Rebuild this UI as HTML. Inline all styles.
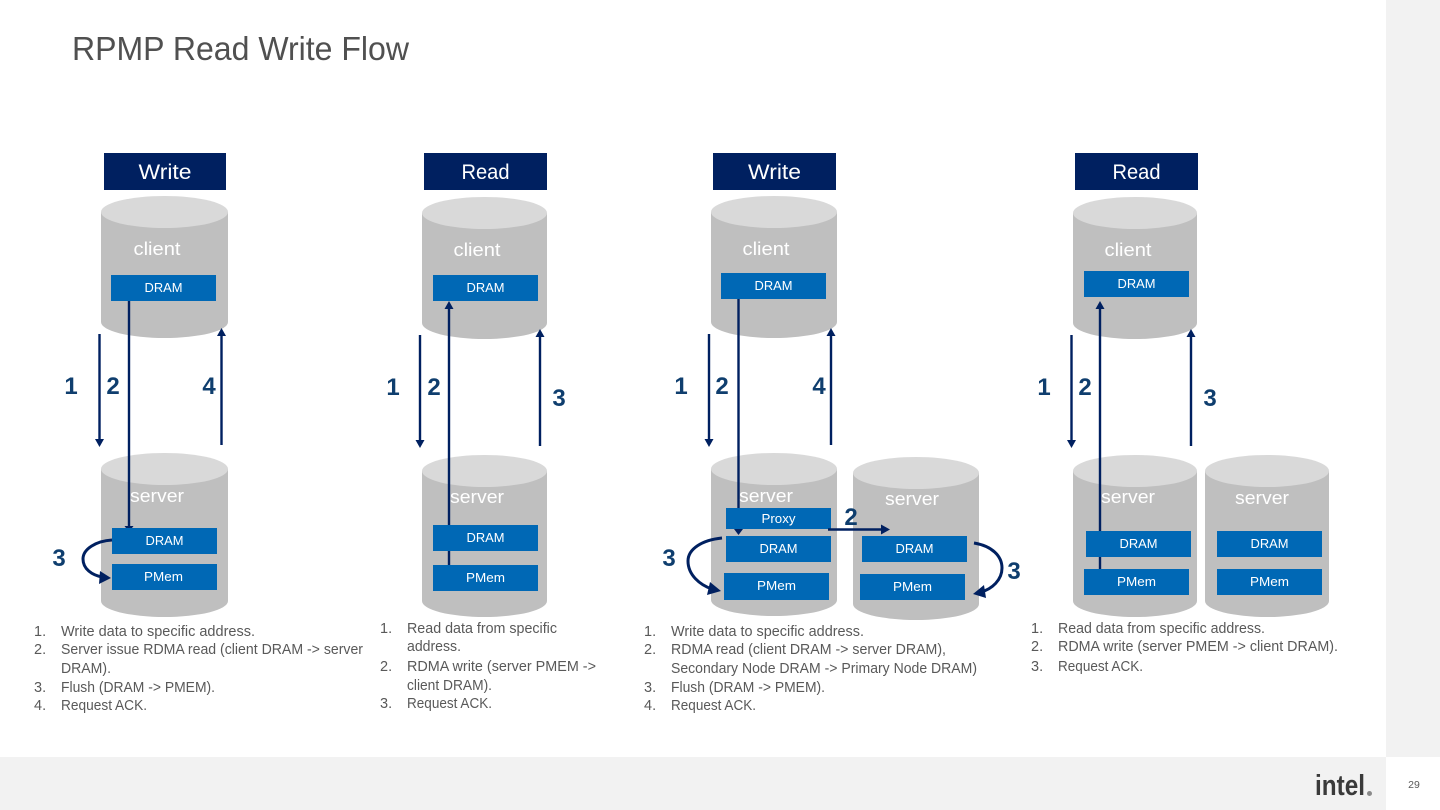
<!DOCTYPE html>
<html><head><meta charset="utf-8"><style>
html,body{margin:0;padding:0;background:#fff;width:1440px;height:810px;overflow:hidden}
svg{display:block}
text{font-family:"Liberation Sans",sans-serif}
.b{fill:#bfbfbf}.t{fill:#d9d9d9}.box{fill:#0068b5}
.bl{fill:#fff;font-size:13px;text-anchor:middle}
.cy{fill:#fff;font-size:18px;text-anchor:middle}
.hd{fill:#fff;font-size:21px;text-anchor:middle}
.n{fill:#0f3e6e;font-size:24px;font-weight:bold;text-anchor:middle}
.l{fill:#595959;font-size:14.5px}
.a{stroke:#002060;stroke-width:2.4;fill:none}
.c{stroke:#002060;stroke-width:3;fill:none}
.h{fill:#002060}
</style></head><body>
<svg width="1440" height="810" viewBox="0 0 1440 810" xmlns="http://www.w3.org/2000/svg">
<rect x="1386" y="0" width="54" height="757" fill="#f2f2f2"/>
<rect x="0" y="757" width="1386" height="53" fill="#f2f2f2"/>
<text x="72" y="60" font-size="33" fill="#505050" textLength="337" lengthAdjust="spacingAndGlyphs">RPMP Read Write Flow</text>

<!-- headers -->
<rect x="104" y="153" width="122" height="37" fill="#002060"/><text class="hd" x="165" y="179" textLength="53" lengthAdjust="spacingAndGlyphs">Write</text>
<rect x="424" y="153" width="123" height="37" fill="#002060"/><text class="hd" x="485.500" y="179" textLength="48" lengthAdjust="spacingAndGlyphs">Read</text>
<rect x="713" y="153" width="123" height="37" fill="#002060"/><text class="hd" x="774.500" y="179" textLength="53" lengthAdjust="spacingAndGlyphs">Write</text>
<rect x="1075" y="153" width="123" height="37" fill="#002060"/><text class="hd" x="1136.500" y="179" textLength="48" lengthAdjust="spacingAndGlyphs">Read</text>

<!-- cylinders -->
<path class="b" d="M101 212V322A63.500 16 0 0 0 228 322V212Z"/><ellipse class="t" cx="164.500" cy="212" rx="63.500" ry="16"/>
<path class="b" d="M101 469V601A63.500 16 0 0 0 228 601V469Z"/><ellipse class="t" cx="164.500" cy="469" rx="63.500" ry="16"/>
<path class="b" d="M422 213V323A62.500 16 0 0 0 547 323V213Z"/><ellipse class="t" cx="484.500" cy="213" rx="62.500" ry="16"/>
<path class="b" d="M422 471V601A62.500 16 0 0 0 547 601V471Z"/><ellipse class="t" cx="484.500" cy="471" rx="62.500" ry="16"/>
<path class="b" d="M711 212V322A63 16 0 0 0 837 322V212Z"/><ellipse class="t" cx="774" cy="212" rx="63" ry="16"/>
<path class="b" d="M711 469V600A63 16 0 0 0 837 600V469Z"/><ellipse class="t" cx="774" cy="469" rx="63" ry="16"/>
<path class="b" d="M853 473V604A63 16 0 0 0 979 604V473Z"/><ellipse class="t" cx="916" cy="473" rx="63" ry="16"/>
<path class="b" d="M1073 213V323A62 16 0 0 0 1197 323V213Z"/><ellipse class="t" cx="1135" cy="213" rx="62" ry="16"/>
<path class="b" d="M1073 471V601A62 16 0 0 0 1197 601V471Z"/><ellipse class="t" cx="1135" cy="471" rx="62" ry="16"/>
<path class="b" d="M1205 471V601A62 16 0 0 0 1329 601V471Z"/><ellipse class="t" cx="1267" cy="471" rx="62" ry="16"/>

<!-- cylinder labels -->
<text class="cy" x="157" y="255" textLength="47" lengthAdjust="spacingAndGlyphs">client</text>
<text class="cy" x="157" y="502" textLength="54" lengthAdjust="spacingAndGlyphs">server</text>
<text class="cy" x="477" y="256" textLength="47" lengthAdjust="spacingAndGlyphs">client</text>
<text class="cy" x="477" y="503" textLength="54" lengthAdjust="spacingAndGlyphs">server</text>
<text class="cy" x="766" y="255" textLength="47" lengthAdjust="spacingAndGlyphs">client</text>
<text class="cy" x="766" y="502" textLength="54" lengthAdjust="spacingAndGlyphs">server</text>
<text class="cy" x="912" y="505" textLength="54" lengthAdjust="spacingAndGlyphs">server</text>
<text class="cy" x="1128" y="256" textLength="47" lengthAdjust="spacingAndGlyphs">client</text>
<text class="cy" x="1128" y="503" textLength="54" lengthAdjust="spacingAndGlyphs">server</text>
<text class="cy" x="1262" y="504" textLength="54" lengthAdjust="spacingAndGlyphs">server</text>

<!-- straight arrows -->
<path class="a" d="M99.500 334V441"/><path class="h" d="M95 439H104L99.500 447Z"/>
<path class="a" d="M129 301V526"/><path class="h" d="M124.500 526H133.500L129 532Z"/>
<path class="a" d="M221.500 445V334"/><path class="h" d="M217 336H226L221.500 328Z"/>

<path class="a" d="M420 335V442"/><path class="h" d="M415.500 440H424.500L420 448Z"/>
<path class="a" d="M449 565V307"/><path class="h" d="M444.500 309H453.500L449 301Z"/>
<path class="a" d="M540 446V335"/><path class="h" d="M535.500 337H544.500L540 329Z"/>

<path class="a" d="M709 334V441"/><path class="h" d="M704.500 439H713.500L709 447Z"/>
<path class="a" d="M738.500 299V530"/><path class="h" d="M734 529H743L738.500 535Z"/>
<path class="a" d="M831 445V334"/><path class="h" d="M826.500 336H835.500L831 328Z"/>

<path class="a" d="M1071.500 335V442"/><path class="h" d="M1067 440H1076L1071.500 448Z"/>
<path class="a" d="M1100 569V307"/><path class="h" d="M1095.500 309H1104.500L1100 301Z"/>
<path class="a" d="M1191 446V335"/><path class="h" d="M1186.500 337H1195.500L1191 329Z"/>

<!-- boxes -->
<rect class="box" x="111" y="275" width="105" height="26"/><text class="bl" x="163.500" y="292" textLength="38" lengthAdjust="spacingAndGlyphs">DRAM</text>
<rect class="box" x="112" y="528" width="105" height="26"/><text class="bl" x="164.500" y="545" textLength="38" lengthAdjust="spacingAndGlyphs">DRAM</text>
<rect class="box" x="112" y="564" width="105" height="26"/><text class="bl" x="163.500" y="581" textLength="39" lengthAdjust="spacingAndGlyphs">PMem</text>

<rect class="box" x="433" y="275" width="105" height="26"/><text class="bl" x="485.500" y="292" textLength="38" lengthAdjust="spacingAndGlyphs">DRAM</text>
<rect class="box" x="433" y="525" width="105" height="26"/><text class="bl" x="485.500" y="542" textLength="38" lengthAdjust="spacingAndGlyphs">DRAM</text>
<rect class="box" x="433" y="565" width="105" height="26"/><text class="bl" x="485.500" y="582" textLength="39" lengthAdjust="spacingAndGlyphs">PMem</text>

<rect class="box" x="721" y="273" width="105" height="26"/><text class="bl" x="773.500" y="290" textLength="38" lengthAdjust="spacingAndGlyphs">DRAM</text>
<rect class="box" x="726" y="508" width="105" height="21"/><text class="bl" x="778.500" y="523" textLength="34" lengthAdjust="spacingAndGlyphs">Proxy</text>
<rect class="box" x="726" y="536" width="105" height="26"/><text class="bl" x="778.500" y="553" textLength="38" lengthAdjust="spacingAndGlyphs">DRAM</text>
<rect class="box" x="724" y="573" width="105" height="27"/><text class="bl" x="776.500" y="590" textLength="39" lengthAdjust="spacingAndGlyphs">PMem</text>
<rect class="box" x="862" y="536" width="105" height="26"/><text class="bl" x="914.500" y="553" textLength="38" lengthAdjust="spacingAndGlyphs">DRAM</text>
<rect class="box" x="860" y="574" width="105" height="26"/><text class="bl" x="912.500" y="591" textLength="39" lengthAdjust="spacingAndGlyphs">PMem</text>

<rect class="box" x="1084" y="271" width="105" height="26"/><text class="bl" x="1136.500" y="288" textLength="38" lengthAdjust="spacingAndGlyphs">DRAM</text>
<rect class="box" x="1086" y="531" width="105" height="26"/><text class="bl" x="1138.500" y="548" textLength="38" lengthAdjust="spacingAndGlyphs">DRAM</text>
<rect class="box" x="1084" y="569" width="105" height="26"/><text class="bl" x="1136.500" y="586" textLength="39" lengthAdjust="spacingAndGlyphs">PMem</text>
<rect class="box" x="1217" y="531" width="105" height="26"/><text class="bl" x="1269.500" y="548" textLength="38" lengthAdjust="spacingAndGlyphs">DRAM</text>
<rect class="box" x="1217" y="569" width="105" height="26"/><text class="bl" x="1269.500" y="586" textLength="39" lengthAdjust="spacingAndGlyphs">PMem</text>

<!-- curved and horizontal arrows -->
<path class="c" d="M112 540C96 541 83 549 83 559C83 569 92 575 102 577"/><path class="h" d="M111 578L100 571L99 584Z"/>
<path class="c" d="M722 538C702 540 688 549 688 561C688 575 700 585 712 589"/><path class="h" d="M721 591L710 582L707 595Z"/>
<path class="c" d="M974 543C992 546 1002 556 1002 568C1002 580 992 589 981 592"/><path class="h" d="M973 594L984 585L986 598Z"/>
<path class="a" d="M828 529.500H884"/><path class="h" d="M881 524.500L890 529.500L881 534.500Z"/>

<!-- step numbers -->
<text class="n" x="71" y="394">1</text><text class="n" x="113" y="394">2</text><text class="n" x="209" y="394">4</text><text class="n" x="59" y="566">3</text>
<text class="n" x="393" y="395">1</text><text class="n" x="434" y="395">2</text><text class="n" x="559" y="406">3</text>
<text class="n" x="681" y="394">1</text><text class="n" x="722" y="394">2</text><text class="n" x="819" y="394">4</text><text class="n" x="669" y="566">3</text><text class="n" x="851" y="525">2</text><text class="n" x="1014" y="579">3</text>
<text class="n" x="1044" y="395">1</text><text class="n" x="1085" y="395">2</text><text class="n" x="1210" y="406">3</text>

<!-- lists -->
<text class="l" x="34" y="636">1.</text><text class="l" x="61" y="636" textLength="194" lengthAdjust="spacingAndGlyphs">Write data to specific address.</text>
<text class="l" x="34" y="654">2.</text><text class="l" x="61" y="654" textLength="302" lengthAdjust="spacingAndGlyphs">Server issue RDMA read (client DRAM -&gt; server</text>
<text class="l" x="61" y="673" textLength="50" lengthAdjust="spacingAndGlyphs">DRAM).</text>
<text class="l" x="34" y="692">3.</text><text class="l" x="61" y="692" textLength="154" lengthAdjust="spacingAndGlyphs">Flush (DRAM -&gt; PMEM).</text>
<text class="l" x="34" y="710">4.</text><text class="l" x="61" y="710" textLength="86" lengthAdjust="spacingAndGlyphs">Request ACK.</text>

<text class="l" x="380" y="633">1.</text><text class="l" x="407" y="633" textLength="150" lengthAdjust="spacingAndGlyphs">Read data from specific</text>
<text class="l" x="407" y="651" textLength="54" lengthAdjust="spacingAndGlyphs">address.</text>
<text class="l" x="380" y="671">2.</text><text class="l" x="407" y="671" textLength="189" lengthAdjust="spacingAndGlyphs">RDMA write (server PMEM -&gt;</text>
<text class="l" x="407" y="690" textLength="85" lengthAdjust="spacingAndGlyphs">client DRAM).</text>
<text class="l" x="380" y="708">3.</text><text class="l" x="407" y="708" textLength="85" lengthAdjust="spacingAndGlyphs">Request ACK.</text>

<text class="l" x="644" y="636">1.</text><text class="l" x="671" y="636" textLength="193" lengthAdjust="spacingAndGlyphs">Write data to specific address.</text>
<text class="l" x="644" y="654">2.</text><text class="l" x="671" y="654" textLength="275" lengthAdjust="spacingAndGlyphs">RDMA read (client DRAM -&gt; server DRAM),</text>
<text class="l" x="671" y="673" textLength="306" lengthAdjust="spacingAndGlyphs">Secondary Node DRAM -&gt; Primary Node DRAM)</text>
<text class="l" x="644" y="692">3.</text><text class="l" x="671" y="692" textLength="154" lengthAdjust="spacingAndGlyphs">Flush (DRAM -&gt; PMEM).</text>
<text class="l" x="644" y="710">4.</text><text class="l" x="671" y="710" textLength="85" lengthAdjust="spacingAndGlyphs">Request ACK.</text>

<text class="l" x="1031" y="633">1.</text><text class="l" x="1058" y="633" textLength="207" lengthAdjust="spacingAndGlyphs">Read data from specific address.</text>
<text class="l" x="1031" y="651">2.</text><text class="l" x="1058" y="651" textLength="280" lengthAdjust="spacingAndGlyphs">RDMA write (server PMEM -&gt; client DRAM).</text>
<text class="l" x="1031" y="671">3.</text><text class="l" x="1058" y="671" textLength="85" lengthAdjust="spacingAndGlyphs">Request ACK.</text>

<!-- footer -->
<text x="1315" y="795" font-size="29" font-weight="bold" fill="#3a3a3a" textLength="50" lengthAdjust="spacingAndGlyphs">intel</text>
<circle cx="1369.500" cy="793.500" r="2.500" fill="#8a8a8a"/>
<text x="1414" y="788" font-size="10.500" fill="#595959" text-anchor="middle">29</text>
</svg>
</body></html>
